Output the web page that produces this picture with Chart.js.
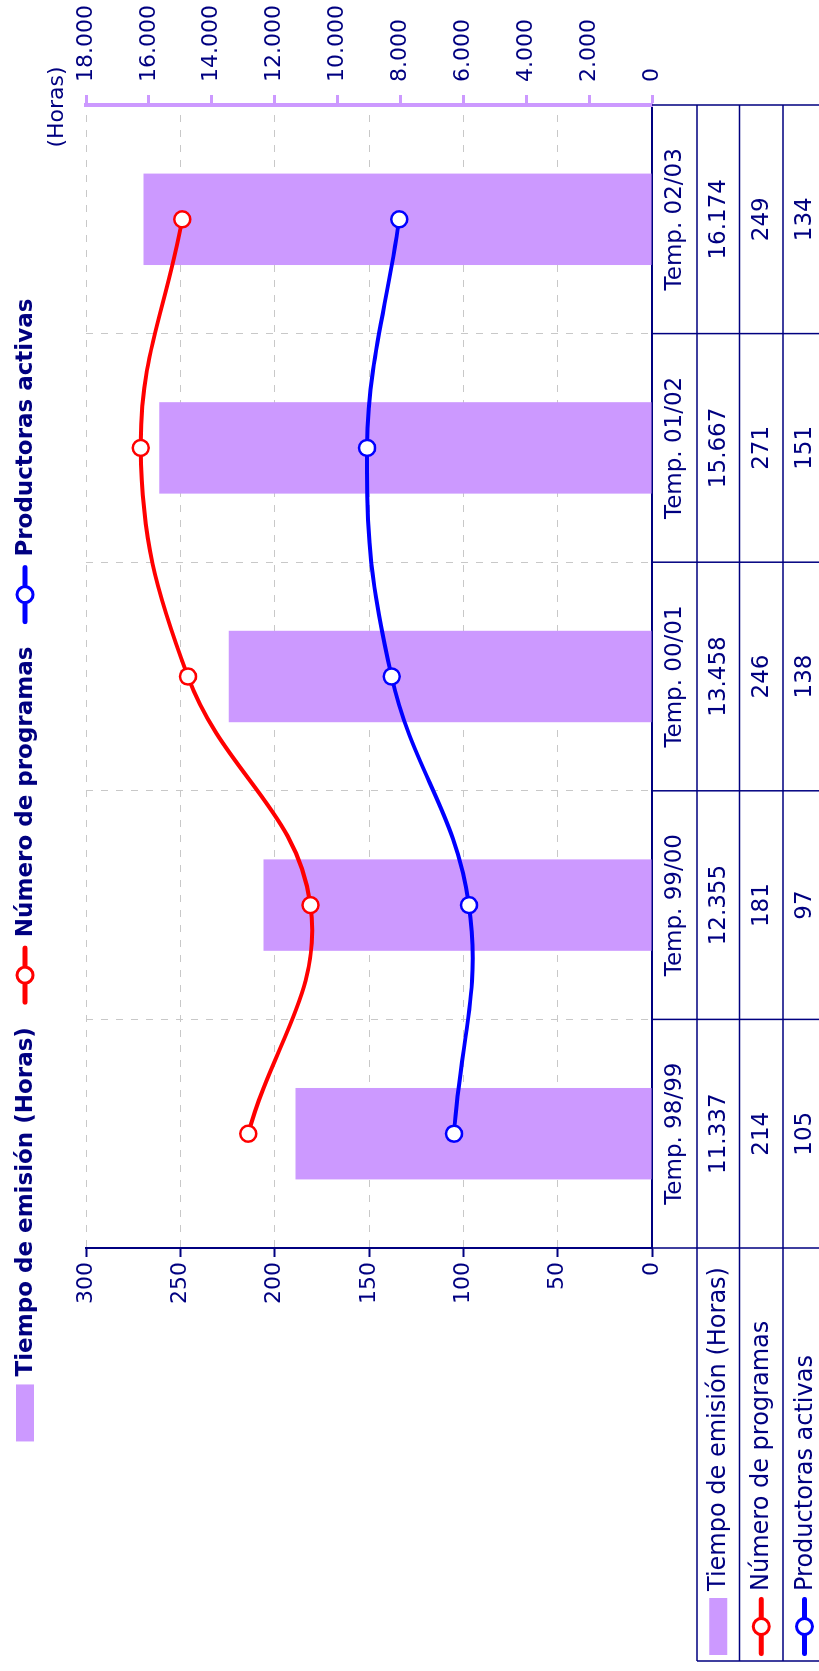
<!DOCTYPE html>
<html><head><meta charset="utf-8">
<script src="https://cdn.jsdelivr.net/npm/chart.js@4/dist/chart.umd.min.js"></script>
<style>
html,body{margin:0;padding:0;background:#fff;overflow:hidden;width:819px;height:1671px;}
#wrap{position:absolute;left:0;top:0;width:1671px;height:819px;transform-origin:0 0;transform:translateY(1671px) rotate(-90deg);}
canvas{display:block}
</style></head><body>
<div id="wrap"><canvas id="c" width="1671" height="819"></canvas></div>
<script>
// ---- data ----
const categories = ['Temp. 98/99', 'Temp. 99/00', 'Temp. 00/01', 'Temp. 01/02', 'Temp. 02/03'];
const horasEmision = [11337, 12355, 13458, 15667, 16174];
const numeroProgramas = [214, 181, 246, 271, 249];
const productorasActivas = [105, 97, 138, 151, 134];
const leftTicks = [0, 50, 100, 150, 200, 250, 300];
const rightTicks = [0, 2000, 4000, 6000, 8000, 10000, 12000, 14000, 16000, 18000];
const seriesNames = ['Tiempo de emisión (Horas)', 'Número de programas', 'Productoras activas'];
const rightAxisTitle = '(Horas)';

// ---- styles ----
const NAVY = '#000080', BAR = '#cc99ff', RED = '#ff0000', BLUE = '#0000ff', GRID = '#c8c8c8';
const FONT = '"DejaVu Sans", sans-serif';
const fmt = v => String(v).replace(/\B(?=(\d{3})+(?!\d))/g, '.');

function drawMarker(ctx, kind, cx, cy, w) {
  if (kind === 0) { ctx.fillStyle = BAR; ctx.fillRect(cx - w / 2, cy - 9, w, 18); return; }
  const col = kind === 1 ? RED : BLUE;
  ctx.save();
  ctx.strokeStyle = col; ctx.lineWidth = 5; ctx.lineCap = 'round';
  ctx.beginPath(); ctx.moveTo(cx - w / 2 + 3, cy); ctx.lineTo(cx + w / 2 - 3, cy); ctx.stroke();
  ctx.beginPath(); ctx.arc(cx, cy, 8, 0, Math.PI * 2); ctx.fillStyle = '#fff'; ctx.fill();
  ctx.lineWidth = 3; ctx.stroke();
  ctx.restore();
}

const tablePlugin = {
  id: 'dataTable',
  afterDraw(chart) {
    const ctx = chart.ctx, a = chart.chartArea, xs = chart.scales.x;
    const n = categories.length, cw = (a.right - a.left) / n;
    const rowY = [a.bottom, a.bottom + 45, a.bottom + 87.5, a.bottom + 131, a.bottom + 174];
    const tableLeft = 10;
    ctx.save();
    ctx.strokeStyle = NAVY; ctx.lineWidth = 1.5;
    ctx.beginPath();
    for (let r = 1; r < rowY.length; r++) { ctx.moveTo(tableLeft, rowY[r]); ctx.lineTo(a.right, rowY[r]); }
    for (let i = 0; i <= n; i++) { const x = a.left + i * cw; ctx.moveTo(x, rowY[0]); ctx.lineTo(x, rowY[4]); }
    ctx.moveTo(tableLeft, rowY[1]); ctx.lineTo(tableLeft, rowY[4]);
    ctx.stroke();
    // cell text
    ctx.fillStyle = NAVY; ctx.font = '23px ' + FONT; ctx.textAlign = 'center'; ctx.textBaseline = 'middle';
    const rows = [categories, horasEmision.map(fmt), numeroProgramas.map(String), productorasActivas.map(String)];
    rows.forEach((vals, r) => {
      const y = (rowY[r] + rowY[r + 1]) / 2;
      vals.forEach((t, i) => ctx.fillText(t, xs.getPixelForValue(i), y + 1));
    });
    // row headers
    ctx.textAlign = 'left';
    seriesNames.forEach((name, k) => {
      const y = (rowY[k + 1] + rowY[k + 2]) / 2;
      drawMarker(ctx, k, 44.5, y, k === 0 ? 57 : 60);
      ctx.fillStyle = NAVY; ctx.font = '24px ' + FONT;
      ctx.fillText(name, 80, y + 1);
    });
    // right axis title
    ctx.textAlign = 'center';
    ctx.font = '22px ' + FONT;
    ctx.fillText(rightAxisTitle, a.right - 2, 57);
    // legend
    ctx.font = 'bold 23px ' + FONT;
    const mW = [57, 60, 60], gapMT = 8, gapItem = 22;
    const widths = seriesNames.map((s, k) => mW[k] + gapMT + ctx.measureText(s).width);
    const total = widths.reduce((p, c) => p + c, 0) + gapItem * (widths.length - 1);
    let x = 801 - total / 2;
    const ly = 25;
    seriesNames.forEach((s, k) => {
      drawMarker(ctx, k, x + mW[k] / 2, ly, mW[k]);
      ctx.fillStyle = NAVY; ctx.font = 'bold 23px ' + FONT; ctx.textAlign = 'left';
      ctx.fillText(s, x + mW[k] + gapMT, ly + 1);
      x += widths[k] + gapItem;
    });
    ctx.restore();
  }
};

new Chart(document.getElementById('c'), {
  type: 'bar',
  data: {
    labels: categories,
    datasets: [
      { type: 'line', label: seriesNames[1], data: numeroProgramas, yAxisID: 'y', order: 1,
        borderColor: RED, borderWidth: 4, tension: 0.4, pointRadius: 8, pointBorderWidth: 2.5,
        pointBackgroundColor: '#fff', pointBorderColor: RED, fill: false },
      { type: 'line', label: seriesNames[2], data: productorasActivas, yAxisID: 'y', order: 2,
        borderColor: BLUE, borderWidth: 4, tension: 0.4, pointRadius: 8, pointBorderWidth: 2.5,
        pointBackgroundColor: '#fff', pointBorderColor: BLUE, fill: false },
      { type: 'bar', label: seriesNames[0], data: horasEmision, yAxisID: 'y1', order: 3,
        backgroundColor: BAR, borderWidth: 0, barPercentage: 0.4, categoryPercentage: 1 }
    ]
  },
  options: {
    responsive: false, animation: false, events: [],
    layout: { padding: { top: 86, left: 0, right: 0, bottom: 0 } },
    plugins: { legend: { display: false }, tooltip: { enabled: false }, title: { display: false } },
    scales: {
      x: {
        offset: true,
        grid: { offset: true, color: GRID, lineWidth: 1, drawTicks: false },
        border: { display: true, color: NAVY, width: 2, dash: [7, 8] },
        ticks: { display: false },
        afterFit(s) { s.height = 167; }
      },
      y: {
        position: 'left', min: 0, max: 300,
        afterBuildTicks(s) { s.ticks = leftTicks.map(v => ({ value: v })); },
        grid: { color: GRID, lineWidth: 1, tickLength: 9, tickColor: NAVY, tickWidth: 2 },
        border: { display: true, color: NAVY, width: 2, dash: [7, 8] },
        ticks: { color: NAVY, font: { family: FONT, size: 22 }, padding: 5 },
        afterFit(s) { s.width = 423; }
      },
      y1: {
        position: 'right', min: 0, max: 18000,
        afterBuildTicks(s) { s.ticks = rightTicks.map(v => ({ value: v })); },
        grid: { drawOnChartArea: false, tickLength: 10, tickColor: BAR, tickWidth: 3, color: BAR },
        border: { display: true, color: BAR, width: 4 },
        ticks: { color: NAVY, font: { family: FONT, size: 22 }, padding: 13, callback: v => fmt(v) },
        afterFit(s) { s.width = 105; }
      }
    }
  },
  plugins: [tablePlugin]
});
</script>
</body></html>
